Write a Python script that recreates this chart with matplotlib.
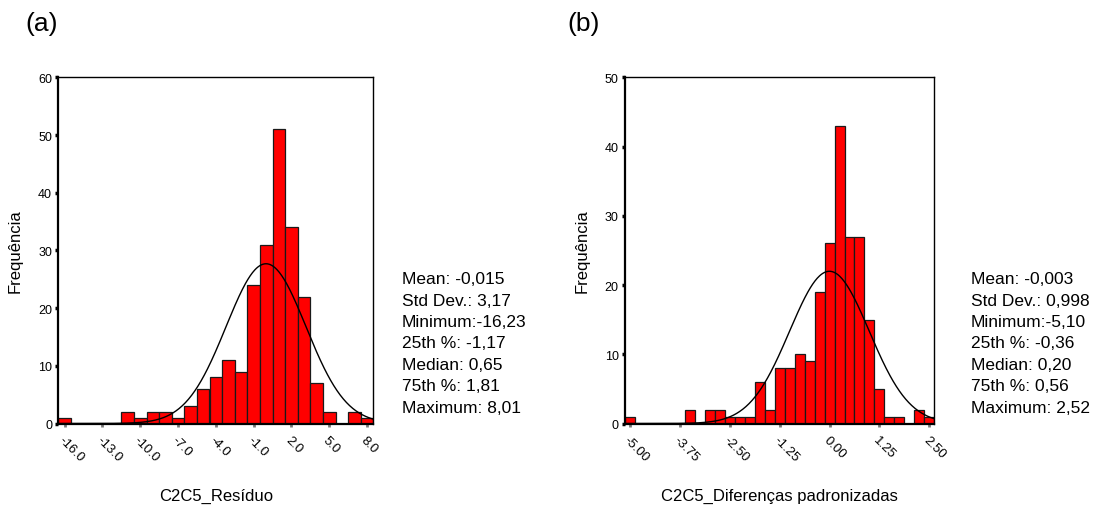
import numpy as np
import matplotlib
matplotlib.use("Agg")
import matplotlib.pyplot as plt
from matplotlib.transforms import ScaledTranslation

plt.rcParams['font.family'] = ['Liberation Sans', 'DejaVu Sans']

# ---- (a) C2C5_Resíduo : bins of width 1 centred on integers -16 .. 8
res_centers = list(range(-16, 9))
res_counts = [1, 0, 0, 0, 0, 2, 1, 2, 2, 1, 3, 6, 8, 11, 9, 24, 31, 51, 34, 22, 7, 2, 0, 2, 1]
res_bin_width = 1.0
res_tick_labels = ["-16.0", "-13.0", "-10.0", "-7.0", "-4.0", "-1.0", "2.0", "5.0", "8.0"]
res_yticks = [0, 10, 20, 30, 40, 50, 60]
res_stats = ["Mean: -0,015", "Std Dev.: 3,17", "Minimum:-16,23", "25th %: -1,17",
             "Median: 0,65", "75th %: 1,81", "Maximum: 8,01"]

# ---- (b) C2C5_Diferenças padronizadas : bins of width 0.25 centred on -5.00 .. 2.50
std_centers = [-5.0 + 0.25 * i for i in range(31)]
std_counts = [1, 0, 0, 0, 0, 0, 2, 0, 2, 2, 1, 1, 1, 6, 2, 8, 8, 10, 9, 19,
              26, 43, 27, 27, 15, 5, 1, 1, 0, 2, 1]
std_bin_width = 0.25
std_tick_labels = ["-5.00", "-3.75", "-2.50", "-1.25", "0.00", "1.25", "2.50"]
std_yticks = [0, 10, 20, 30, 40, 50]
std_stats = ["Mean: -0,003", "Std Dev.: 0,998", "Minimum:-5,10", "25th %: -0,36",
             "Median: 0,20", "75th %: 0,56", "Maximum: 2,52"]

W, H = 1104, 506
fig = plt.figure(figsize=(W / 100, H / 100), dpi=100)
fig.patch.set_facecolor("white")


def px_rect(x0, y0, x1, y1):
    return [x0 / W, 1 - y1 / H, (x1 - x0) / W, (y1 - y0) / H]


def stat_value(lines, key):
    for ln in lines:
        if ln.startswith(key):
            return float(ln.split(":", 1)[1].strip().replace(",", "."))
    raise KeyError(key)


def histogram_panel(ax, centers, counts, bw, tick_step, tick_labels, yticks, stats):
    centers = np.asarray(centers, dtype=float)
    counts = np.asarray(counts, dtype=float)
    nz = counts > 0
    ax.bar(centers[nz], counts[nz], width=bw, align="center",
           color="#ff0000", edgecolor="#1a1a1a", linewidth=0.9, zorder=2)

    lo = centers[0] - bw / 2
    hi = centers[-1] + bw / 2
    ax.set_xlim(lo, hi)
    ax.set_ylim(yticks[0], yticks[-1])

    # normal curve scaled to the histogram
    mean = stat_value(stats, "Mean")
    sd = stat_value(stats, "Std Dev.")
    n = counts.sum()
    xs = np.linspace(lo, hi, 400)
    ys = n * bw / (sd * np.sqrt(2 * np.pi)) * np.exp(-0.5 * ((xs - mean) / sd) ** 2)
    ax.plot(xs, ys, color="black", linewidth=1.0, zorder=3)

    ax.set_xticks(centers[::tick_step])
    ax.set_xticklabels(tick_labels, rotation=-45, ha="left", va="top",
                       rotation_mode="anchor", fontsize=9.5)
    ax.set_yticks(yticks)
    ylabels = ax.set_yticklabels([str(v) for v in yticks], fontsize=9)
    # lift the zero label clear of the x axis
    ylabels[0].set_transform(ylabels[0].get_transform() +
                             ScaledTranslation(0, 5 / 100, fig.dpi_scale_trans))

    ax.tick_params(axis="y", direction="out", length=2.5, width=2.5,
                   color="black", pad=2)
    ax.tick_params(axis="x", direction="out", length=2, width=2,
                   color="#7a7a7a", pad=5)

    for side in ("left", "bottom"):
        ax.spines[side].set_linewidth(1.6)
    for side in ("top", "right"):
        ax.spines[side].set_linewidth(1.0)
    for sp in ax.spines.values():
        sp.set_color("black")
    ax.set_facecolor("white")


ax_a = fig.add_axes(px_rect(58.3, 78.3, 373.3, 424.5))
histogram_panel(ax_a, res_centers, res_counts, res_bin_width, 3,
                res_tick_labels, res_yticks, res_stats)

ax_b = fig.add_axes(px_rect(625.0, 78.3, 934.3, 424.5))
histogram_panel(ax_b, std_centers, std_counts, std_bin_width, 5,
                std_tick_labels, std_yticks, std_stats)


def ftext(x, y, s, **kw):
    fig.text(x / W, 1 - y / H, s, **kw)


# panel letters
ftext(25, 31.5, "(a)", fontsize=19, va="baseline", ha="left")
ftext(567, 31.5, "(b)", fontsize=19, va="baseline", ha="left")

# axis titles
ftext(15, 251, "Frequência", fontsize=12, rotation=90, ha="center", va="center")
ftext(582, 251, "Frequência", fontsize=12, rotation=90, ha="center", va="center")
ftext(215.8, 501, "C2C5_Resíduo", fontsize=12, ha="center", va="baseline")
ftext(779.6, 501, "C2C5_Diferenças padronizadas", fontsize=12, ha="center", va="baseline")

# summary statistics
for i, line in enumerate(res_stats):
    ftext(401.7, 284.3 + 21.4 * i, line, fontsize=12.5, ha="left", va="baseline")
for i, line in enumerate(std_stats):
    ftext(970.7, 284.3 + 21.4 * i, line, fontsize=12.5, ha="left", va="baseline")

fig.savefig("out.png", dpi=100, facecolor="white")
